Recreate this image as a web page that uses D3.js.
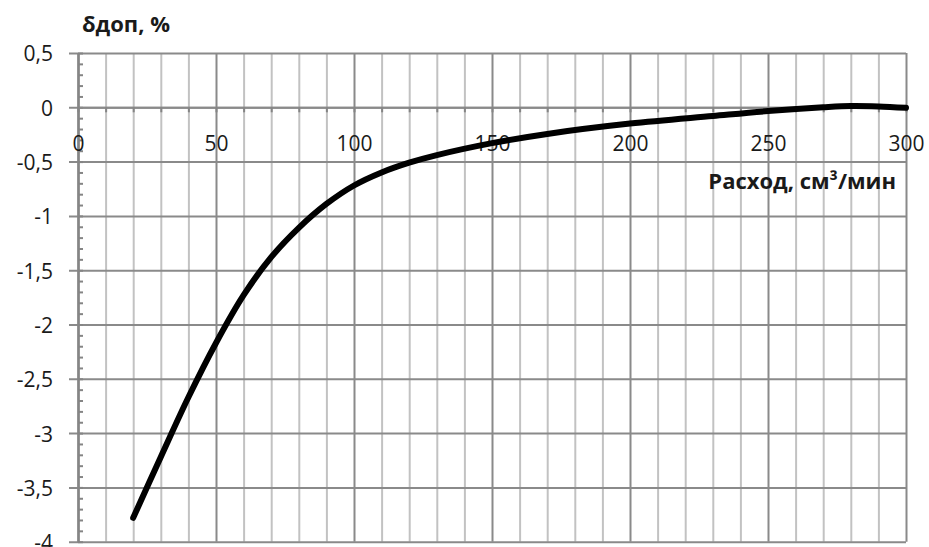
<!DOCTYPE html>
<html>
<head>
<meta charset="utf-8">
<script src="https://cdn.jsdelivr.net/npm/d3@7"></script>
<style>
  body { margin: 0; background: #fff; }
  svg text { font-family: "Open Sans", sans-serif; fill: #1a1a1a; }
</style>
</head>
<body>
<div id="chart"></div>
<script>
// values
const flowValues  = [20, 30, 40, 50, 60, 70, 80, 90, 100, 110, 120, 130, 150, 170, 200, 230, 250, 270, 280, 290, 300];
const deltaValues = [-3.78, -3.22, -2.67, -2.17, -1.73, -1.38, -1.11, -0.89, -0.72, -0.60, -0.51, -0.44, -0.33, -0.245, -0.15, -0.08, -0.035, 0.0, 0.012, 0.008, -0.005];

const xTickLabels = [0, 50, 100, 150, 200, 250, 300];
const yTickLabels = [0.5, 0, -0.5, -1, -1.5, -2, -2.5, -3, -3.5, -4];
const xMinorStep = 10;
const yMinorStep = 0.1;

const yTitle = "δдоп, %";
const xTitle = "Расход, см³/мин";

// set the dimensions of the plot area
const chartWidth = 929, chartHeight = 547;
const plot = { left: 78, right: 906, top: 53, bottom: 541.7 };

const ruLocale = d3.formatLocale({ decimal: ",", thousands: " ", grouping: [3], currency: ["", ""], minus: "-" });
const fmt = ruLocale.format("~g");

const majorGrid = "#8a8a8a",
    minorGrid = "#c2c2c2";

const x = d3.scaleLinear()
    .domain([0, 300])
    .range([plot.left, plot.right]);

const y = d3.scaleLinear()
    .domain([-4, 0.5])
    .range([plot.bottom, plot.top]);

const svg = d3.select("#chart")
    .append("svg")
    .attr("width", chartWidth)
    .attr("height", chartHeight);

// vertical grid lines, every 10, darker every 50
const xGrid = svg.append("g")
    .attr("transform", "translate(0," + plot.bottom + ")")
    .call(d3.axisBottom(x)
        .tickValues(d3.range(0, 301, xMinorStep))
        .tickSize(-(plot.bottom - plot.top))
        .tickFormat(""));
xGrid.select(".domain").remove();
xGrid.selectAll(".tick line")
    .attr("stroke", d => d % 50 === 0 ? majorGrid : minorGrid)
    .attr("stroke-width", 2);
// draw the darker ones on top
xGrid.selectAll(".tick").filter(d => d % 50 === 0).raise();

// horizontal grid lines, sticking out left of the axis like outer ticks
const yGrid = svg.append("g")
    .attr("transform", "translate(" + plot.right + ",0)")
    .call(d3.axisLeft(y)
        .tickValues(yTickLabels)
        .tickSize(plot.right - plot.left + 9)
        .tickFormat(""));
yGrid.select(".domain").remove();
yGrid.selectAll(".tick line")
    .attr("stroke", majorGrid)
    .attr("stroke-width", 2);

// y axis line with small inner ticks
const yMinor = d3.range(-4, 0.5001, yMinorStep).map(v => +v.toFixed(1));
const yAxis = svg.append("g")
    .attr("transform", "translate(" + plot.left + ",0)")
    .call(d3.axisRight(y)
        .tickValues(yMinor)
        .tickSize(5)
        .tickSizeOuter(0)
        .tickFormat(""));
yAxis.select(".domain")
    .attr("stroke", "#858585")
    .attr("stroke-width", 2.5);
yAxis.selectAll(".tick line")
    .attr("stroke", "#858585")
    .attr("stroke-width", 2);

// x axis sits on y = 0 with small ticks below it
const xAxis = svg.append("g")
    .attr("transform", "translate(0," + y(0) + ")")
    .call(d3.axisBottom(x)
        .tickValues(d3.range(0, 301, xMinorStep))
        .tickSize(5)
        .tickSizeOuter(0)
        .tickFormat(""));
xAxis.select(".domain")
    .attr("stroke", majorGrid)
    .attr("stroke-width", 2);
xAxis.selectAll(".tick line")
    .attr("stroke", "#858585")
    .attr("stroke-width", 2);

// tick labels
const yLabels = svg.append("g")
    .attr("transform", "translate(" + plot.left + ",0)")
    .call(d3.axisLeft(y)
        .tickValues(yTickLabels)
        .tickSize(0)
        .tickPadding(25)
        .tickFormat(fmt));
yLabels.select(".domain").remove();
yLabels.selectAll("text")
    .attr("font-family", "Open Sans")
    .attr("font-size", 21)
    .attr("dy", "0.38em")
    .attr("fill", "#1a1a1a");

const xLabels = svg.append("g")
    .attr("transform", "translate(0," + y(0) + ")")
    .call(d3.axisBottom(x)
        .tickValues(xTickLabels)
        .tickSize(0)
        .tickPadding(29)
        .tickFormat(fmt));
xLabels.select(".domain").remove();
xLabels.selectAll("text")
    .attr("font-family", "Open Sans")
    .attr("font-size", 21)
    .attr("fill", "#1a1a1a");

// the curve
const line = d3.line()
    .x((d, i) => x(flowValues[i]))
    .y(d => y(d))
    .curve(d3.curveCatmullRom.alpha(0.5));

svg.append("path")
    .datum(deltaValues)
    .attr("fill", "none")
    .attr("stroke", "#000")
    .attr("stroke-width", 6)
    .attr("stroke-linecap", "round")
    .attr("stroke-linejoin", "round")
    .attr("d", line);

// axis titles
svg.append("text")
    .attr("x", 82)
    .attr("y", 32)
    .attr("font-size", 22)
    .attr("font-weight", "bold")
    .text(yTitle);

svg.append("text")
    .attr("x", 896)
    .attr("y", 189)
    .attr("text-anchor", "end")
    .attr("font-size", 22)
    .attr("font-weight", "bold")
    .text(xTitle);
</script>
</body>
</html>
